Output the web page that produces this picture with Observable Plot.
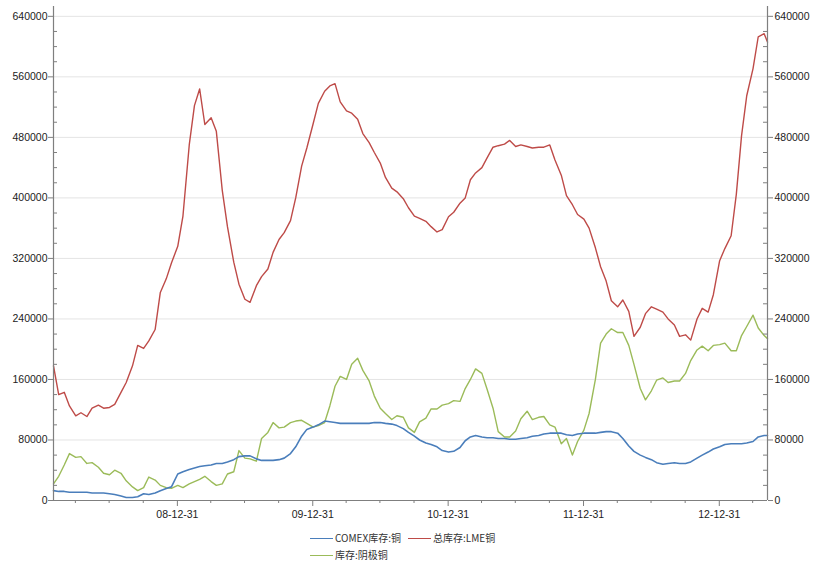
<!DOCTYPE html>
<html>
<head>
<meta charset="utf-8">
<script src="https://cdn.jsdelivr.net/npm/d3@7"></script>
<script src="https://cdn.jsdelivr.net/npm/@observablehq/plot@0.6"></script>
<style>
  html, body { margin: 0; padding: 0; background: #fff; }
  #wrap { position: relative; width: 815px; height: 564px; font-family: "Noto Sans CJK SC", "Liberation Sans", sans-serif; }
  .leg { position: absolute; font-size: 10px; color: #333; line-height: 12px; white-space: nowrap; }
  .leg i { display: inline-block; width: 23px; height: 0; border-top: 1.4px solid; vertical-align: middle; margin-right: 2px; position: relative; top: -1px; }
</style>
</head>
<body>
<div id="wrap"></div>
<script>
const dates = [
"2008-02-01","2008-02-15","2008-03-01","2008-03-15","2008-04-01","2008-04-15","2008-05-01","2008-05-15","2008-06-01","2008-06-15",
"2008-07-01","2008-07-15","2008-08-01","2008-08-15","2008-09-01","2008-09-15","2008-10-01","2008-10-15","2008-11-01","2008-11-15",
"2008-12-01","2008-12-15","2009-01-01","2009-01-15","2009-02-01","2009-02-15","2009-03-01","2009-03-15","2009-04-01","2009-04-15",
"2009-05-01","2009-05-15","2009-06-01","2009-06-15","2009-07-01","2009-07-15","2009-08-01","2009-08-15","2009-09-01","2009-09-15",
"2009-10-01","2009-10-15","2009-11-01","2009-11-15","2009-12-01","2009-12-15","2010-01-01","2010-01-15","2010-02-01","2010-02-15",
"2010-03-01","2010-03-15","2010-04-01","2010-04-15","2010-05-01","2010-05-15","2010-06-01","2010-06-15","2010-07-01","2010-07-15",
"2010-08-01","2010-08-15","2010-09-01","2010-09-15","2010-10-01","2010-10-15","2010-11-01","2010-11-15","2010-12-01","2010-12-15",
"2011-01-01","2011-01-15","2011-02-01","2011-02-15","2011-03-01","2011-03-15","2011-04-01","2011-04-15","2011-05-01","2011-05-15",
"2011-06-01","2011-06-15","2011-07-01","2011-07-15","2011-08-01","2011-08-15","2011-09-01","2011-09-15","2011-10-01","2011-10-15",
"2011-11-01","2011-11-15","2011-12-01","2011-12-15","2012-01-01","2012-01-15","2012-02-01","2012-02-15","2012-03-01","2012-03-15",
"2012-04-01","2012-04-15","2012-05-01","2012-05-15","2012-06-01","2012-06-15","2012-07-01","2012-07-15","2012-08-01","2012-08-15",
"2012-09-01","2012-09-15","2012-10-01","2012-10-15","2012-11-01","2012-11-15","2012-12-01","2012-12-15","2013-01-01","2013-01-15",
"2013-02-01","2013-02-15","2013-03-01","2013-03-15","2013-04-01","2013-04-15","2013-05-01","2013-05-10"
];

// 总库存:LME铜
const lme = [
178000,140000,143000,125000,112000,116000,111000,122000,126000,122000,
123000,127000,143000,156000,178000,205000,201000,211000,226000,275000,
293000,314000,336000,376000,470000,522000,544000,497000,506000,488000,
410000,362000,315000,286000,266000,262000,284000,296000,306000,328000,
345000,354000,370000,400000,442000,466000,498000,525000,541000,548000,
551000,527000,515000,512000,504000,485000,473000,460000,446000,427000,
413000,408000,399000,387000,376000,373000,369000,362000,355000,358000,
375000,381000,393000,400000,424000,433000,440000,453000,467000,469000,
471000,476000,468000,470000,468000,466000,467000,467000,470000,450000,
430000,403000,391000,378000,372000,360000,334000,309000,290000,264000,
256000,265000,250000,217000,229000,247000,256000,253000,249000,240000,
232000,217000,219000,212000,240000,254000,249000,272000,317000,333000,
350000,405000,482000,535000,571000,613000,617000,606000
];

// 库存:阴极铜
const shfe = [
22000,32000,47000,62000,57000,58000,49000,50000,44000,36000,
34000,40000,36000,26000,18000,13000,17000,31000,27000,20000,
17000,16000,20000,17000,22000,25000,28000,32000,25000,20000,
22000,35000,38000,66000,56000,55000,52000,82000,90000,103000,
96000,97000,103000,105000,106000,102000,97000,99000,103000,125000,
151000,164000,160000,180000,188000,172000,158000,138000,122000,115000,
107000,112000,110000,96000,90000,104000,109000,121000,121000,126000,
128000,132000,131000,148000,160000,174000,168000,147000,122000,91000,
84000,84000,92000,108000,118000,107000,110000,111000,100000,97000,
75000,82000,60000,78000,93000,115000,160000,208000,220000,227000,
222000,222000,205000,180000,148000,133000,145000,159000,162000,156000,
158000,158000,168000,185000,199000,204000,198000,205000,206000,208000,
198000,198000,218000,230000,245000,228000,218000,214000
];

// COMEX库存:铜
const comex = [
13000,12000,12000,11000,11000,11000,11000,10000,10000,10000,
9000,8000,6000,4000,4000,5000,9000,8000,10000,13000,
16000,18000,35000,38000,41000,43000,45000,46000,47000,49000,
49000,51000,54000,58000,59000,59000,55000,53000,53000,53000,
54000,56000,62000,71000,85000,94000,97000,100000,105000,104000,
103000,102000,102000,102000,102000,102000,102000,103000,103000,102000,
101000,99000,95000,90000,85000,80000,76000,74000,71000,66000,
64000,65000,70000,79000,84000,86000,84000,83000,83000,82000,
82000,81000,81000,82000,83000,85000,86000,88000,89000,89000,
89000,87000,86000,88000,89000,89000,89000,90000,91000,91000,
89000,82000,72000,65000,60000,57000,54000,50000,48000,49000,
50000,49000,49000,51000,56000,60000,64000,68000,71000,74000,
75000,75000,75000,76000,78000,84000,86000,86000
];

const seriesNames = ["COMEX库存:铜", "总库存:LME铜", "库存:阴极铜"];
const seriesColors = ["#4a7ebb", "#be4b48", "#9bbb59"];

const yTicks = [0, 80000, 160000, 240000, 320000, 400000, 480000, 560000, 640000];
const yMinorTicks = [20000, 40000, 60000, 100000, 120000, 140000, 180000, 200000, 220000, 260000, 280000, 300000,
  340000, 360000, 380000, 420000, 440000, 460000, 500000, 520000, 540000, 580000, 600000, 620000];
const xTicks = ["2008-12-31", "2009-12-31", "2010-12-31", "2011-12-31", "2012-12-31"];
const xMinorTicks = ["2008-03-31","2008-06-30","2008-09-30","2009-03-31","2009-06-30","2009-09-30",
  "2010-03-31","2010-06-30","2010-09-30","2011-03-31","2011-06-30","2011-09-30",
  "2012-03-31","2012-06-30","2012-09-30","2013-03-31"];

const toRows = (vals) => dates.map((d, i) => ({date: new Date(d), value: vals[i]}));
const rowsComex = toRows(comex), rowsLme = toRows(lme), rowsShfe = toRows(shfe);
const xMin = new Date(dates[0]), xMax = new Date(dates[dates.length - 1]);
const fmtX = d3.utcFormat("%y-%m-%d");
const axisGray = "#7f7f7f";

const chart = Plot.plot({
  width: 815, height: 530,
  marginLeft: 53, marginRight: 48, marginTop: 6, marginBottom: 30,
  style: {fontFamily: "Liberation Sans, Arial, sans-serif", fontSize: "10.5px", color: "#222", background: "#fff"},
  x: {type: "utc", domain: [xMin, xMax], label: null},
  y: {domain: [0, 653000], label: null},
  marks: [
    Plot.gridY(yTicks, {stroke: "#e4e4e4", strokeOpacity: 1}),
    Plot.line(rowsShfe, {x: "date", y: "value", stroke: seriesColors[2], strokeWidth: 1.4}),
    Plot.line(rowsLme, {x: "date", y: "value", stroke: seriesColors[1], strokeWidth: 1.4}),
    Plot.line(rowsComex, {x: "date", y: "value", stroke: seriesColors[0], strokeWidth: 1.6}),
    Plot.ruleX([xMin, xMax], {stroke: axisGray, strokeWidth: 1.2}),
    Plot.ruleY([0], {stroke: axisGray, strokeWidth: 1.2}),
    Plot.ruleY(yMinorTicks, {x1: xMin, x2: xMin, insetRight: -4, stroke: axisGray}),
    Plot.ruleY(yMinorTicks, {x1: xMax, x2: xMax, insetLeft: -4, stroke: axisGray}),
    Plot.axisY(yTicks, {anchor: "left", label: null, tickSize: 5, tickPadding: 1, stroke: axisGray, fill: "#222", tickFormat: d => String(d)}),
    Plot.axisY(yTicks, {anchor: "right", label: null, tickSize: 5, tickPadding: 2, stroke: axisGray, fill: "#222", tickFormat: d => String(d)}),
    Plot.axisX(xTicks.map(d => new Date(d)), {anchor: "bottom", label: null, tickSize: 6, tickPadding: 4, stroke: axisGray, fill: "#222", tickFormat: fmtX}),
    Plot.axisX(xMinorTicks.map(d => new Date(d)), {anchor: "bottom", label: null, tickSize: 3, stroke: axisGray, text: null})
  ]
});

const wrap = document.getElementById("wrap");
chart.style.position = "absolute";
chart.style.left = "0px";
chart.style.top = "0px";
wrap.appendChild(chart);

const legendPos = [[310, 532], [408, 532], [310, 549]];
seriesNames.forEach((name, i) => {
  const el = document.createElement("div");
  el.className = "leg";
  el.style.left = legendPos[i][0] + "px";
  el.style.top = legendPos[i][1] + "px";
  const sw = document.createElement("i");
  sw.style.borderTopColor = seriesColors[i];
  el.appendChild(sw);
  el.appendChild(document.createTextNode(name));
  wrap.appendChild(el);
});
</script>
</body>
</html>
